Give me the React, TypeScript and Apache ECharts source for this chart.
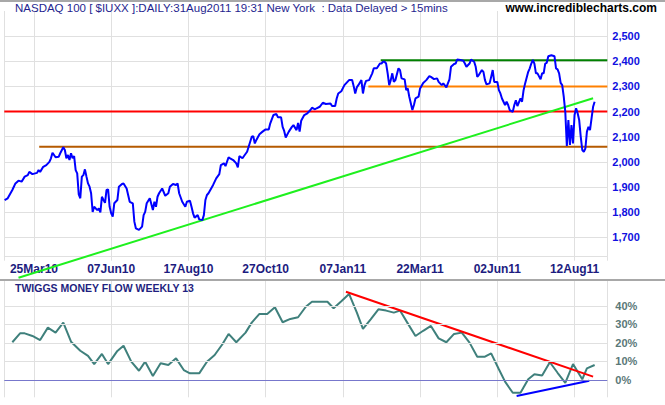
import React, { useEffect, useRef } from 'react';
import * as echarts from 'echarts';

// Trading-day index (0 = 25 Mar 2010) and closing values, NASDAQ 100
const priceDay = [
  -19, -17, -14, -12, -10, -8, -6, -4, -3, -1, 2, 3, 4, 6, 8, 10, 11, 12, 14, 16, 17, 19, 20, 21, 22, 23, 24, 25, 26, 27,
  28, 29, 30, 31, 32, 33, 34, 35, 36, 37, 38, 39, 41, 42, 43, 44, 45, 46, 47, 48, 49, 50, 51, 52, 54, 55, 57, 58, 60, 62,
  64, 65, 66, 68, 70, 71, 72, 73, 75, 77, 78, 79, 80, 81, 83, 85, 87, 88, 90, 92, 93, 94, 96, 98, 99, 101, 102, 103, 104, 106,
  107, 109, 110, 111, 112, 113, 116, 118, 120, 121, 123, 124, 126, 127, 129, 131, 132, 133, 135, 136, 138, 139, 141, 142, 143, 144, 146, 148, 150, 152,
  153, 155, 157, 158, 160, 161, 162, 163, 165, 167, 168, 170, 171, 172, 173, 175, 177, 179, 180, 182, 183, 185, 187, 189, 192, 193, 195, 196, 197, 199,
  201, 204, 206, 207, 208, 209, 210, 212, 213, 214, 215, 217, 219, 220, 222, 224, 225, 226, 227, 228, 229, 230, 231, 232, 233, 234, 236, 237, 238, 240,
  241, 242, 243, 245, 246, 247, 249, 250, 252, 254, 256, 257, 259, 261, 262, 264, 265, 267, 269, 270, 272, 273, 274, 276, 278, 279, 280, 282, 283, 285,
  286, 287, 288, 290, 291, 292, 293, 295, 296, 297, 298, 300, 301, 302, 303, 305, 306, 307, 308, 310, 311, 312, 313, 315, 316, 317, 318, 320, 321, 322,
  323, 324, 325, 326, 328, 329, 330, 331, 332, 333, 335, 337, 338, 339, 340, 341, 342, 343, 344, 345, 346, 347, 348, 349, 350, 351, 352, 353, 354, 355,
  356, 357, 358, 359, 360, 361, 362, 363,
];
const priceClose = [
  1848, 1855, 1888, 1914, 1925, 1921, 1941, 1947, 1960, 1951, 1956, 1967, 1960, 1980, 1987, 2000, 2014, 2036, 2018, 2020, 2034, 2058, 2047, 2014, 2027, 2007, 2034, 2014, 2023, 1967,
  1954, 1870, 1855, 1941, 1947, 1970, 1941, 1914, 1901, 1875, 1801, 1821, 1808, 1815, 1799, 1861, 1848, 1837, 1888, 1890, 1821, 1795, 1782, 1835, 1848, 1901, 1912, 1914, 1894, 1841,
  1835, 1762, 1735, 1729, 1742, 1788, 1801, 1835, 1855, 1808, 1841, 1821, 1861, 1875, 1894, 1865, 1875, 1901, 1912, 1908, 1914, 1875, 1841, 1821, 1841, 1845, 1821, 1795, 1778, 1788,
  1771, 1768, 1788, 1848, 1868, 1875, 1908, 1934, 1951, 1987, 1994, 1983, 2018, 2014, 2007, 1994, 1978, 2023, 2014, 2023, 2040, 2060, 2100, 2102, 2073, 2087, 2110, 2120, 2129, 2129,
  2153, 2186, 2190, 2177, 2177, 2139, 2123, 2097, 2120, 2139, 2146, 2126, 2155, 2120, 2163, 2186, 2193, 2206, 2215, 2209, 2213, 2219, 2235, 2230, 2232, 2222, 2222, 2252, 2272, 2281,
  2305, 2325, 2325, 2301, 2272, 2296, 2305, 2325, 2272, 2305, 2322, 2325, 2352, 2372, 2372, 2391, 2391, 2398, 2398, 2391, 2352, 2305, 2325, 2352, 2318, 2325, 2372, 2365, 2332, 2328,
  2285, 2292, 2259, 2206, 2226, 2252, 2259, 2292, 2314, 2325, 2341, 2338, 2329, 2332, 2318, 2305, 2312, 2296, 2328, 2378, 2389, 2391, 2407, 2405, 2402, 2391, 2378, 2391, 2407, 2398,
  2378, 2338, 2345, 2365, 2358, 2325, 2308, 2312, 2338, 2365, 2318, 2318, 2285, 2272, 2252, 2226, 2239, 2226, 2206, 2199, 2226, 2245, 2222, 2252, 2239, 2285, 2312, 2358, 2372, 2391,
  2405, 2391, 2352, 2352, 2328, 2352, 2352, 2391, 2394, 2420, 2424, 2420, 2372, 2368, 2352, 2314, 2305, 2259, 2199, 2063, 2166, 2067, 2146, 2073, 2186, 2213, 2193, 2166, 2100, 2047,
  2040, 2053, 2120, 2139, 2126, 2173, 2219, 2239,
];

// Twiggs Money Flow (weekly, 13), in percent
const tmfDay = [
  -14, -9, -6, -1, 4, 9, 14, 19, 24, 30, 35, 39, 44, 48, 54, 58, 63, 68, 72, 77, 82, 87, 92, 97, 101, 107, 112, 117, 122, 126,
  131, 137, 141, 146, 151, 156, 161, 166, 171, 176, 180, 185, 190, 194, 199, 204, 209, 213, 218, 223, 228, 233, 237, 242, 247, 252, 257, 262, 267, 272,
  277, 282, 287, 292, 296, 301, 305, 310, 315, 320, 324, 329, 334, 339, 344, 349, 355, 358, 363,
];
const tmfValue = [
  20.4, 25.2, 25.2, 23.8, 21.6, 28.3, 25.6, 31.0, 20.7, 15.8, 13.0, 8.6, 14.1, 8.6, 15.7, 18.5, 9.9, 5.0, 9.9, 2.2, 9.0, 8.1, 11.7, 5.4, 3.6, 3.6, 9.9, 13.5, 19.3, 24.9,
  20.4, 25.6, 31.0, 35.7, 35.7, 39.3, 31.2, 33.0, 33.9, 39.6, 42.3, 42.3, 42.3, 38.8, 42.6, 46.5, 36.5, 27.6, 32.8, 38.2, 37.5, 36.4, 37.5, 30.6, 23.8, 26.6, 29.2, 22.5, 20.4, 24.9,
  25.6, 20.2, 12.6, 12.6, 14.4, 5.8, -0.9, -6.9, -6.9, 0.4, 3.1, 2.4, 9.6, 3.9, -1.5, 8.6, 0.4, 6.3, 8.1,
];

// Axis ticks
const xTickDays = [0, 50, 100, 150, 200, 250, 300, 350];
const xTickLabels = ['25Mar10', '07Jun10', '17Aug10', '27Oct10', '07Jan11', '22Mar11', '02Jun11', '12Aug11'];
const priceTicks = [1700, 1800, 1900, 2000, 2100, 2200, 2300, 2400, 2500];
const tmfTicks = [0, 10, 20, 30, 40];

// Horizontal price levels: value and starting day
const levelValues = [2404, 2300, 2200, 2060];
const levelStartDays = [224.5, 216.5, -19.2, 3.4];
const levelColors = ['#008000', '#ff8000', '#ff0000', '#b55a00'];

// Trend lines
const priceTrendDays = [-10, 362];
const priceTrendValues = [1539, 2253];
const tmfDownDays = [202, 362];
const tmfDownValues = [47.7, 1.8];
const tmfUpDays = [312.5, 359.5];
const tmfUpValues = [-8.6, -0.4];

const X_MIN = -19.2;
const X_MAX = 371.2;
const FONT = 'Liberation Sans, Arial, sans-serif';
const GRID = '#e0e0e0';

const near = (v: number, m: number) => Math.abs(v / m - Math.round(v / m)) < 1e-6;

function buildOption() {
  const xAxisCommon = {
    type: 'value',
    min: X_MIN,
    max: X_MAX,
    minInterval: 50,
    maxInterval: 50,
    axisLine: { show: true, lineStyle: { color: GRID } },
    axisTick: { show: true, length: 4, lineStyle: { color: GRID } },
    splitLine: { show: true, lineStyle: { color: GRID } },
  };
  const pair = (xs: number[], ys: number[]) => xs.map((x, i) => [x, ys[i]]);
  const levelSeries = levelValues.map((v, i) => ({
    type: 'line',
    xAxisIndex: 0,
    yAxisIndex: 0,
    data: [[levelStartDays[i], v], [X_MAX, v]],
    showSymbol: false,
    symbol: 'none',
    lineStyle: { color: levelColors[i], width: 2 },
    silent: true,
    z: 3,
  }));
  return {
    animation: false,
    backgroundColor: '#ffffff',
    textStyle: { fontFamily: FONT },
    title: [
      {
        text: 'NASDAQ 100 [ $IUXX ]:DAILY:31Aug2011 19:31 New York  : Data Delayed > 15mins',
        left: 15,
        top: 2,
        padding: 0,
        textStyle: { color: '#1f1f8f', fontSize: 11.5, fontWeight: 'normal', fontFamily: FONT },
      },
      {
        text: 'www.incrediblecharts.com',
        right: 8,
        top: 2,
        padding: 0,
        textStyle: { color: '#000000', fontSize: 12, fontWeight: 'bold', fontFamily: FONT },
      },
      {
        text: 'TWIGGS MONEY FLOW WEEKLY 13',
        left: 15,
        top: 282,
        padding: 0,
        textStyle: { color: '#1f1f80', fontSize: 10.5, fontWeight: 'bold', fontFamily: FONT },
      },
    ],
    graphic: [
      { type: 'rect', shape: { x: 0, y: 0, width: 665, height: 2 }, style: { fill: '#a8a8a8' }, silent: true },
      { type: 'rect', shape: { x: 0, y: 279, width: 665, height: 2 }, style: { fill: '#a8a8a8' }, silent: true },
    ],
    grid: [
      { left: 4.3, right: 57.7, top: 11, bottom: 148.3 },
      { left: 4.3, right: 57.7, top: 281, bottom: 7.7 },
    ],
    xAxis: [
      {
        ...xAxisCommon,
        gridIndex: 0,
        axisLabel: {
          show: true,
          margin: 6,
          color: '#1c1c80',
          fontWeight: 'bold',
          fontSize: 12,
          fontFamily: FONT,
          formatter: (v: number) => {
            const k = xTickDays.indexOf(Math.round(v));
            return near(v, 1) && k >= 0 ? xTickLabels[k] : '';
          },
        },
      },
      { ...xAxisCommon, gridIndex: 1, axisLabel: { show: false } },
    ],
    yAxis: [
      {
        type: 'value',
        gridIndex: 0,
        position: 'right',
        min: 1622.5,
        max: 2600,
        minInterval: 100,
        maxInterval: 100,
        axisLine: { show: false },
        axisTick: { show: true, length: 4, lineStyle: { color: GRID } },
        splitLine: { show: true, showMaxLine: false, lineStyle: { color: GRID } },
        axisLabel: {
          margin: 5,
          color: '#1010e0',
          fontWeight: 'bold',
          fontSize: 11,
          fontFamily: FONT,
          formatter: (v: number) => {
            const r = Math.round(v);
            return near(v, 100) && priceTicks.includes(r) ? r.toLocaleString('en-US') : '';
          },
        },
      },
      {
        type: 'value',
        gridIndex: 1,
        position: 'right',
        min: -9.35,
        max: 53.5,
        minInterval: 10,
        maxInterval: 10,
        axisLine: { show: false },
        axisTick: { show: false },
        splitLine: { show: false },
        axisLabel: {
          margin: 8,
          color: '#5a7878',
          fontWeight: 'bold',
          fontSize: 11,
          fontFamily: FONT,
          formatter: (v: number) => {
            const r = Math.round(v);
            return near(v, 10) && tmfTicks.includes(r) ? `${r}%` : '';
          },
        },
      },
    ],
    series: [
      ...levelSeries,
      {
        type: 'line',
        xAxisIndex: 0,
        yAxisIndex: 0,
        data: pair(priceTrendDays, priceTrendValues),
        showSymbol: false,
        symbol: 'none',
        clip: false,
        lineStyle: { color: '#1ef01e', width: 2 },
        silent: true,
        z: 4,
      },
      {
        type: 'line',
        xAxisIndex: 0,
        yAxisIndex: 0,
        data: pair(priceDay, priceClose),
        showSymbol: false,
        symbol: 'none',
        lineStyle: { color: '#0000ff', width: 2 },
        silent: true,
        z: 5,
      },
      {
        type: 'line',
        xAxisIndex: 1,
        yAxisIndex: 1,
        data: [],
        silent: true,
        z: 1,
        markLine: {
          silent: true,
          symbol: 'none',
          label: { show: false },
          animation: false,
          data: [
            ...tmfTicks.filter((t) => t !== 0).map((t) => ({ yAxis: t, lineStyle: { color: GRID, type: 'solid', width: 1 } })),
            { yAxis: 0, lineStyle: { color: '#7777cc', type: 'solid', width: 1 } },
          ],
        },
      },
      {
        type: 'line',
        xAxisIndex: 1,
        yAxisIndex: 1,
        data: pair(tmfDay, tmfValue),
        showSymbol: false,
        symbol: 'none',
        lineStyle: { color: '#3f807c', width: 2 },
        silent: true,
        z: 3,
      },
      {
        type: 'line',
        xAxisIndex: 1,
        yAxisIndex: 1,
        data: pair(tmfDownDays, tmfDownValues),
        showSymbol: false,
        symbol: 'none',
        lineStyle: { color: '#ff0000', width: 2 },
        silent: true,
        z: 4,
      },
      {
        type: 'line',
        xAxisIndex: 1,
        yAxisIndex: 1,
        data: pair(tmfUpDays, tmfUpValues),
        showSymbol: false,
        symbol: 'none',
        lineStyle: { color: '#0000ff', width: 2 },
        silent: true,
        z: 4,
      },
    ],
  };
}

export default function App() {
  const ref = useRef<HTMLDivElement>(null);
  useEffect(() => {
    document.body.style.margin = '0';
    const chart = echarts.init(ref.current as HTMLDivElement, null, { renderer: 'svg' });
    chart.setOption(buildOption() as any);
    return () => chart.dispose();
  }, []);
  return <div ref={ref} style={{ width: 665, height: 405 }} />;
}
